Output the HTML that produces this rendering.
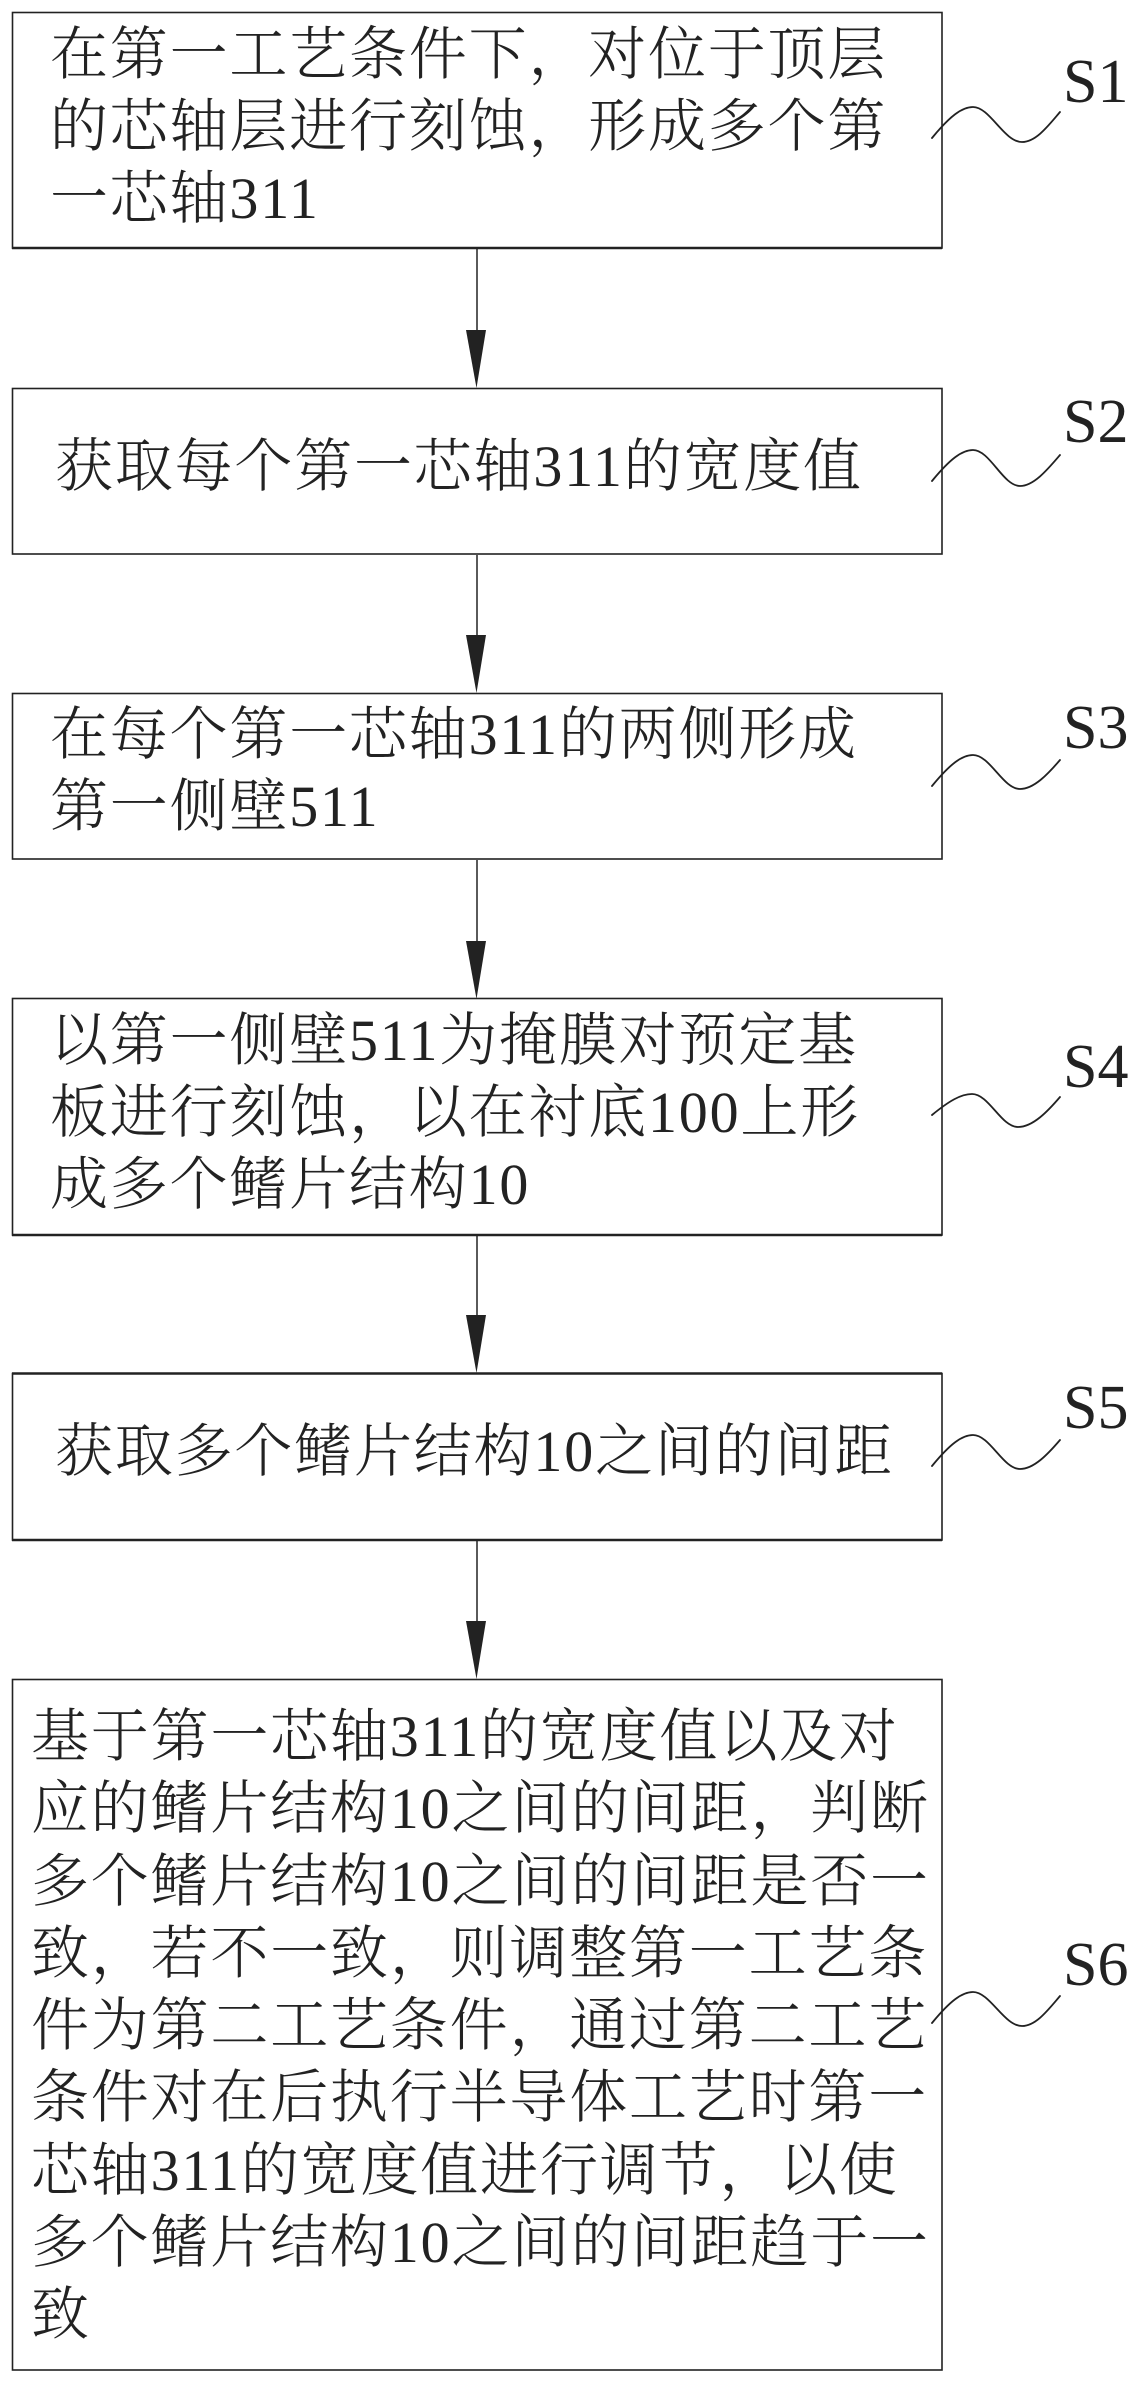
<!DOCTYPE html>
<html>
<head>
<meta charset="utf-8">
<style>
  html, body { margin: 0; padding: 0; background: #ffffff; }
  body { width: 1138px; height: 2384px; overflow: hidden; }
  svg { display: block; }
  .t { font-family: "Liberation Serif", "Noto Serif CJK SC", "Noto Serif CJK JP", serif; font-size: 58px; font-weight: 300; letter-spacing: 1.8px; fill: #222; }
  .s { font-family: "Liberation Serif", serif; font-size: 62px; fill: #222; }
</style>
</head>
<body>
<svg width="1138" height="2384" viewBox="0 0 1138 2384" xmlns="http://www.w3.org/2000/svg">
  <rect x="0" y="0" width="1138" height="2384" fill="#fff"/>

  <!-- Boxes -->
  <g fill="none" stroke="#222" stroke-width="1.6">
    <rect x="12.5" y="12.5" width="929.5" height="235.5"/>
    <rect x="12.5" y="388.5" width="929.5" height="165.5"/>
    <rect x="12.5" y="693.5" width="929.5" height="165.5"/>
    <rect x="12.5" y="998.5" width="929.5" height="236.5"/>
    <rect x="12.5" y="1373.5" width="929.5" height="166.5"/>
    <rect x="12.5" y="1679.5" width="929.5" height="690.5"/>
  </g>
  <!-- thicker edges -->
  <g stroke="#222" stroke-width="2.6">
    <line x1="12" y1="248" x2="942" y2="248"/>
    <line x1="12" y1="1235" x2="942" y2="1235"/>
    <line x1="12" y1="1373.5" x2="942" y2="1373.5"/>
    <line x1="12" y1="1540" x2="942" y2="1540"/>
  </g>

  <!-- Arrows -->
  <g stroke="#222" stroke-width="1.5">
    <line x1="477" y1="249" x2="477" y2="332"/>
    <line x1="477" y1="555" x2="477" y2="637"/>
    <line x1="477" y1="860" x2="477" y2="943"/>
    <line x1="477" y1="1236" x2="477" y2="1317"/>
    <line x1="477" y1="1541" x2="477" y2="1623"/>
  </g>
  <g fill="#222">
    <polygon points="466,330 486,330 476.5,388"/>
    <polygon points="466,635 486,635 476.5,693"/>
    <polygon points="466,941 486,941 476.5,999"/>
    <polygon points="466,1315 486,1315 476.5,1373"/>
    <polygon points="466,1621 486,1621 476.5,1679"/>
  </g>

  <!-- Wavy leaders -->
  <g fill="none" stroke="#222" stroke-width="1.8" stroke-linecap="round">
    <path d="M932,138 C950,116 962,107 973,107 C990,107 1004,142 1022,142 C1036,142 1048,126 1060,112"/>
    <path d="M932,481 C950,459 962,450 973,450 C990,450 1003,486 1020,486 C1034,486 1048,469 1060,455"/>
    <path d="M932,786 C950,764 962,755 973,755 C990,755 1003,789 1020,789 C1034,789 1048,774 1060,760"/>
    <path d="M932,1115 C949,1101 961,1094 972,1094 C989,1094 1001,1127 1018,1127 C1033,1127 1048,1111 1060,1097"/>
    <path d="M932,1466 C950,1444 962,1435 973,1435 C990,1435 1003,1469 1020,1469 C1034,1469 1048,1454 1060,1440"/>
    <path d="M932,2023 C950,2001 962,1992 973,1992 C990,1992 1004,2026 1022,2026 C1036,2026 1048,2010 1060,1996"/>
  </g>

  <!-- Step labels -->
  <text class="s" x="1063" y="102">S1</text>
  <text class="s" x="1063" y="442">S2</text>
  <text class="s" x="1063" y="748">S3</text>
  <text class="s" x="1063" y="1087">S4</text>
  <text class="s" x="1063" y="1428">S5</text>
  <text class="s" x="1063" y="1985">S6</text>

  <!-- Box 1 -->
  <text class="t" x="50" y="74">在第一工艺条件下，对位于顶层</text>
  <text class="t" x="50" y="146">的芯轴层进行刻蚀，形成多个第</text>
  <text class="t" x="50" y="218">一芯轴311</text>

  <!-- Box 2 -->
  <text class="t" x="55" y="486">获取每个第一芯轴311的宽度值</text>

  <!-- Box 3 -->
  <text class="t" x="50" y="754">在每个第一芯轴311的两侧形成</text>
  <text class="t" x="50" y="826">第一侧壁511</text>

  <!-- Box 4 -->
  <text class="t" x="50" y="1060">以第一侧壁511为掩膜对预定基</text>
  <text class="t" x="50" y="1132">板进行刻蚀，以在衬底100上形</text>
  <text class="t" x="50" y="1204">成多个鳍片结构10</text>

  <!-- Box 5 -->
  <text class="t" x="55" y="1471">获取多个鳍片结构10之间的间距</text>

  <!-- Box 6 -->
  <text class="t" x="31" y="1756">基于第一芯轴311的宽度值以及对</text>
  <text class="t" x="31" y="1828">应的鳍片结构10之间的间距，判断</text>
  <text class="t" x="31" y="1901">多个鳍片结构10之间的间距是否一</text>
  <text class="t" x="31" y="1973">致，若不一致，则调整第一工艺条</text>
  <text class="t" x="31" y="2045">件为第二工艺条件，通过第二工艺</text>
  <text class="t" x="31" y="2117">条件对在后执行半导体工艺时第一</text>
  <text class="t" x="31" y="2190">芯轴311的宽度值进行调节，以使</text>
  <text class="t" x="31" y="2262">多个鳍片结构10之间的间距趋于一</text>
  <text class="t" x="31" y="2334">致</text>
</svg>
</body>
</html>
